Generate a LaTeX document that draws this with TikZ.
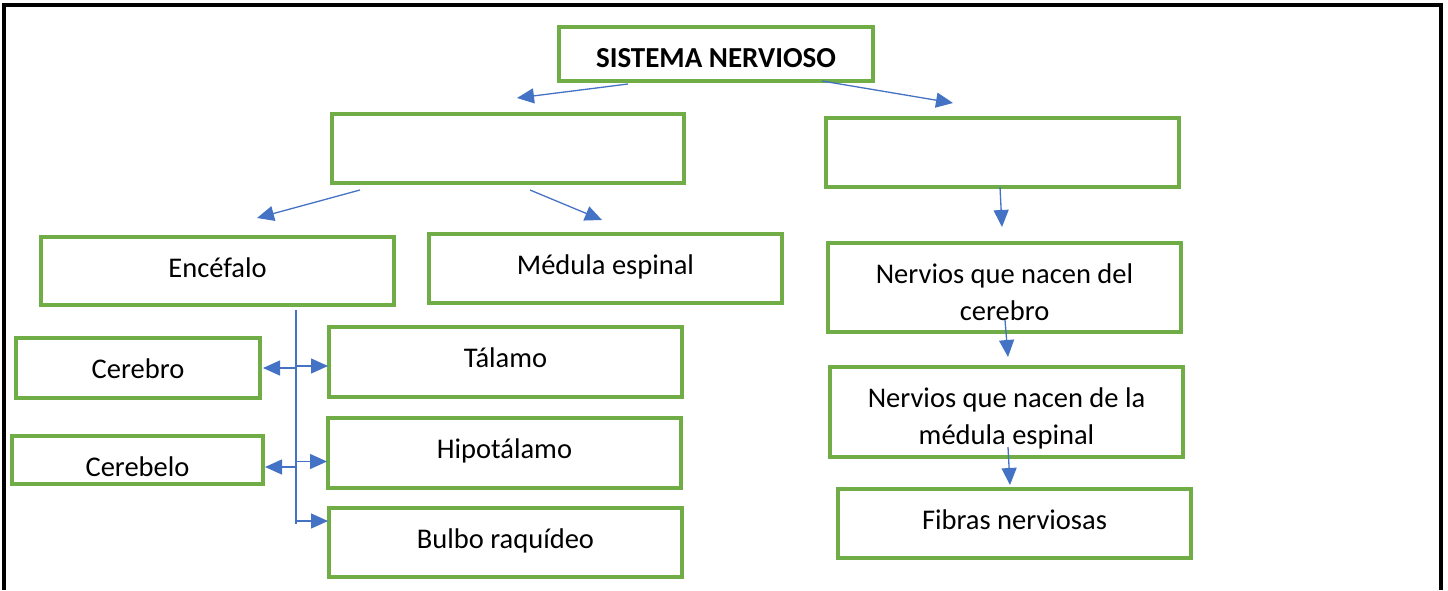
\documentclass[tikz,border=0pt]{standalone}
\usepackage{fontspec}
\setmainfont{Carlito}
\usetikzlibrary{arrows.meta,calc}
\definecolor{boxgreen}{HTML}{70AD47}
\definecolor{arrblue}{HTML}{4472C4}

\begin{document}
\begin{tikzpicture}[x=1pt,y=-1pt,
	caja/.style={draw=boxgreen,line width=3.2pt,inner sep=0pt,outer sep=0pt,anchor=north west,
		align=center,minimum width=353pt,text height=40pt,text depth=29pt,
		font=\fontsize{28.5}{37}\selectfont},
	flecha/.style={arrblue,line width=1.3pt,-{Triangle[length=17pt,width=15pt]}},
	linea/.style={arrblue,line width=1.3pt}]
	\useasboundingbox (0,0) rectangle (1448,590);
	\draw[line width=3.2pt] (4,590) -- (4,5) -- (1441,5) -- (1441,590);
	
	\node[caja,minimum width=314pt,text depth=14pt,font=\fontsize{29}{37}\selectfont\bfseries] (sn) at (559,27) {SISTEMA NERVIOSO};
	\node[caja,minimum width=352pt] (sc) at (332,114) {};
	\node[caja] (sp) at (826,118) {};
	
	\node[caja,text depth=28pt] (enc) at (41,237) {Encéfalo};
	\node[caja] (med) at (429,234) {Médula espinal};
	\node[caja,text height=77pt,text depth=12pt] (ncer) at (828,243) {Nervios que nacen del\\cerebro};
	
	\node[caja,minimum width=244pt,text depth=20pt] (cer) at (16,338) {Cerebro};
	\node[caja,text depth=30pt] (tal) at (329,327) {Tálamo};
	\node[caja,text height=77pt,text depth=13pt] (nmed) at (830,367) {Nervios que nacen de la\\médula espinal};
	\node[caja,minimum width=251pt,text depth=8pt] (cbl) at (12,436) {Cerebelo};
	\node[caja,text depth=30pt] (hip) at (328,418) {Hipotálamo};
	\node[caja] (fib) at (838,489) {Fibras nerviosas};
	\node[caja] (bul) at (329,508) {Bulbo raquídeo};
	
	\draw[flecha] ($(sn.south)+(-88,3)$) -- ($(sc.north)+(9,-16)$);
	\draw[flecha] ($(sn.south)+(106,0)$) -- ($(sp.north)+(-49.5,-15)$);
	\draw[flecha] ($(sc.south)+(-148,7)$) -- ($(enc.north)+(39.5,-19)$);
	\draw[flecha] ($(sc.south)+(22,7)$) -- ($(med.north)+(-3.5,-14)$);
	
	\draw[flecha] ($(sp.south)+(-2.5,0)$) -- ($(ncer.north)+(-2.5,-16)$);
	\draw[flecha] ($(ncer.south)+(0.5,-12)$) -- ($(nmed.north)+(1.5,-10)$);
	\draw[flecha] ($(nmed.south)+(1.5,-10)$) -- ($(fib.north)+(-4.5,-4)$);
	
	% tronco del encefalo
	\coordinate (tronco) at ($(enc.south)+(78.5,5)$);
	\coordinate (troncofin) at ($(bul.west)+(-33,-18.5)$);
	\draw[linea] (tronco) -- (troncofin);
	\draw[flecha] (tronco |- cer.east) -- ($(cer.east)+(3,0)$);
	\draw[flecha] ($(tronco |- cbl.east)+(0,7)$) -- ($(cbl.east)+(2,7)$);
	\foreach \n/\dy in {tal/4,hip/8.5,bul/-21.5}
	{
		\draw[flecha] ($(tronco |- \n.west)+(1,\dy)$) -- ($(\n.west)+(-1,\dy)$);
	}
\end{tikzpicture}
\end{document}
